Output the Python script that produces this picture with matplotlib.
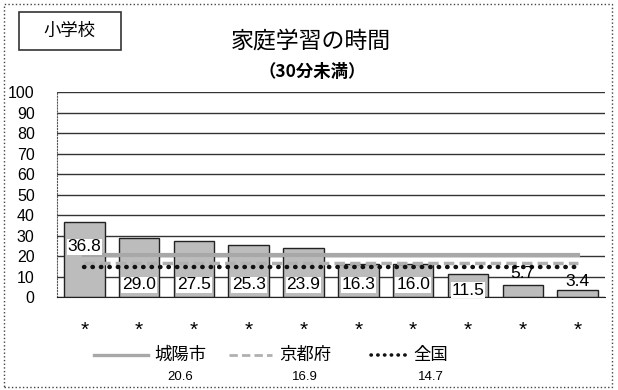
import numpy as np
import matplotlib
matplotlib.use('Agg')
import matplotlib.pyplot as plt
from matplotlib.lines import Line2D
from matplotlib.patches import Rectangle

plt.rcParams['font.family'] = ['Liberation Sans', 'Noto Sans CJK JP']

# データ
values = [36.8, 29.0, 27.5, 25.3, 23.9, 16.3, 16.0, 11.5, 5.7, 3.4]
label_y = [24.5, 6.0, 6.0, 6.0, 6.0, 6.0, 6.0, 3.5, 11.5, 7.5]
ref_names = ['城陽市', '京都府', '全国']
ref_values = [20.6, 16.9, 14.7]
yticks = [0, 10, 20, 30, 40, 50, 60, 70, 80, 90, 100]

x = np.arange(len(values))

fig = plt.figure(figsize=(6.18, 3.90), dpi=100)
ax = fig.add_axes([0.092, 0.238, 0.887, 0.526])

ax.bar(x, values, width=0.74, color='#bcbcbc', edgecolor='#222222', linewidth=1.0, zorder=2)

# 基準線
styles = [dict(color='#a8a8a8', linestyle='-', linewidth=3.0),
          dict(color='#b0b0b0', linestyle=(0, (3, 1.5)), linewidth=2.5),
          dict(color='#111111', linestyle=(0, (0.1, 1.8)), linewidth=3.2, dash_capstyle='round')]
for v, st in zip(ref_values, styles):
    ax.plot(x, [v] * len(x), zorder=3, **st)

for xi, v, ly in zip(x, values, label_y):
    ax.text(xi, ly, f'{v:.1f}', ha='center', va='center', fontsize=12.5, zorder=4,
            bbox=dict(boxstyle='square,pad=0.05', facecolor='white', edgecolor='none') if v > 10 else None)

ax.set_xlim(-0.5, 9.5)
ax.set_ylim(0, 100)
ax.set_yticks(yticks)
ax.set_yticklabels([str(t) for t in yticks], fontsize=11.5)
ax.yaxis.grid(True, color='#333333', linewidth=1.0, zorder=0)
ax.set_axisbelow(True)
ax.set_xticks(x)
ax.set_xticklabels(['*'] * len(x), fontsize=15)
ax.tick_params(axis='x', length=0, pad=17)
ax.tick_params(axis='y', length=0, pad=16)
for s in ['top', 'right']:
    ax.spines[s].set_visible(False)
ax.spines['left'].set_linestyle(':')
ax.spines['left'].set_color('#555555')
ax.spines['bottom'].set_color('#222222')

# タイトル
fig.text(0.503, 0.895, '家庭学習の時間', ha='center', va='center', fontsize=16.5)
fig.text(0.505, 0.815, '（30分未満）', ha='center', va='center', fontsize=12.5,
         fontweight='bold', family=['Noto Sans CJK JP', 'DejaVu Sans'])
fig.add_artist(Rectangle((0.03, 0.872), 0.165, 0.098, transform=fig.transFigure,
                         fill=False, edgecolor='#333333', linewidth=1.2))
fig.text(0.112, 0.921, '小学校', ha='center', va='center', fontsize=12.5)

# 外枠
fig.add_artist(Rectangle((0.006, 0.008), 0.985, 0.983, transform=fig.transFigure,
                         fill=False, edgecolor='#444444', linewidth=1.0, linestyle=':'))

# 凡例
leg_x = [(0.152, 0.240), (0.370, 0.440), (0.600, 0.662)]
text_x = [0.292, 0.494, 0.697]
for (x0, x1), tx, name, v, st in zip(leg_x, text_x, ref_names, ref_values, styles):
    st2 = dict(st)
    st2['linewidth'] = st['linewidth'] * 0.8
    fig.add_artist(Line2D([x0, x1], [0.090, 0.090], transform=fig.transFigure, **st2))
    fig.text(tx, 0.090, name, ha='center', va='center', fontsize=12.5)
    fig.text(tx, 0.033, f'{v:.1f}', ha='center', va='center', fontsize=9.5)

fig.savefig('out.png', dpi=100)
